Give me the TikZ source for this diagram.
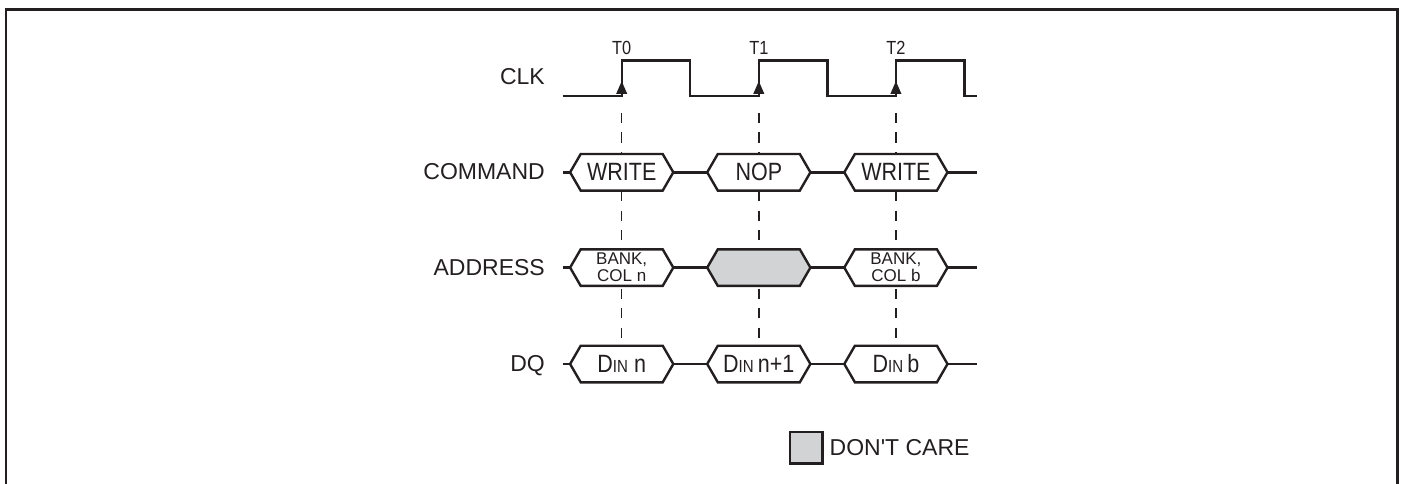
\documentclass[tikz,border=0pt]{standalone}
\usepackage{fontspec}
\setmainfont{Liberation Sans}[Ligatures=TeXOff]
\newfontfamily\narrowfont{Liberation Sans}[FakeStretch=0.86,Ligatures=TeXOff]
\definecolor{ink}{HTML}{231F20}
\definecolor{dcgray}{HTML}{D1D3D4}
\newcommand\hexbox[6][]{%
  \draw[sig, fill=#5] (#3-51.6,#4) -- (#3-41,#4-18.3) -- (#3+41,#4-18.3) -- (#3+51.6,#4)
     -- (#3+41,#4+18.3) -- (#3-41,#4+18.3) -- cycle;
  \coordinate (#2-w) at (#3-51.6,#4);
  \coordinate (#2-e) at (#3+51.6,#4);
  \node[boxtxt,#1] (#2) at (#3,#4) {#6};}
\begin{document}
\begin{tikzpicture}[x=1pt,y=-1pt,line join=miter,
  sig/.style={draw=ink, line width=2.4pt},
  gridline/.style={draw=ink, line width=1.5pt, dash pattern=on 10pt off 9.5pt},
  lab/.style={text=ink, font=\fontsize{23}{27}\selectfont, inner sep=0, anchor=base east},
  tlab/.style={text=ink, font=\narrowfont\fontsize{19}{20}\selectfont, inner sep=0, anchor=base},
  boxtxt/.style={text=ink, font=\narrowfont\fontsize{25}{26}\selectfont, inner sep=0, align=center},
  smalltxt/.style={font=\fontsize{17}{17}\selectfont}]
\useasboundingbox (0,0) rectangle (1402,484);
% frame
\draw[ink, line width=2.5pt] (6.2,484) -- (6.2,9.5) -- (1397.3,9.5) -- (1397.3,484);
% edge coordinates
\coordinate (e0) at (621.7,96);
\coordinate (e1) at (758.8,96);
\coordinate (e2) at (895.9,96);
\coordinate (clkstart) at (562.7,96);
\coordinate (clkend) at (976.7,96);
% dashed reference lines
\foreach \e in {e0,e1,e2}{
  \draw[gridline] ([yshift=-17pt]\e) -- ([yshift=-254pt]\e);
}
% labels
\node[lab] (lclk) at (545,85) {CLK};
\node[lab] (lcmd) at (545,179.8) {COMMAND};
\node[lab] (ladr) at (545,275.1) {ADDRESS};
\node[lab] (ldq) at (545,371.5) {DQ};
% T labels
\node[tlab] (t0) at (621.7,55) {T0};
\node[tlab] (t1) at (758.8,55) {T1};
\node[tlab] (t2) at (895.9,55) {T2};
% clock
\draw[sig] (clkstart) -- (e0) -- (621.7,60.7) -- (690.2,60.7) -- (690.2,96) -- (e1)
  -- (758.8,60.7) -- (827.3,60.7) -- (827.3,96) -- (e2) -- (895.9,60.7) -- (964.4,60.7)
  -- (964.4,96) -- (clkend);
\foreach \e in {e0,e1,e2}{
  \fill[ink] ([yshift=14.8pt]\e) -- ([xshift=5.6pt,yshift=2pt]\e) -- ([xshift=-5.6pt,yshift=2pt]\e) -- cycle;
}
% COMMAND
\hexbox{c1}{621.7}{172.3}{white}{WRITE}
\hexbox{c2}{758.8}{172.3}{white}{NOP}
\hexbox{c3}{895.9}{172.3}{white}{WRITE}
\coordinate (cs) at (562.7,172.3); \coordinate (ce) at (976.7,172.3);
\draw[sig] (cs) -- (c1-w) (c1-e) -- (c2-w) (c2-e) -- (c3-w) (c3-e) -- (ce);
% ADDRESS
\hexbox[smalltxt]{a1}{621.7}{267.6}{white}{BANK,\\COL n}
\hexbox{a2}{758.8}{267.6}{dcgray}{}
\hexbox[smalltxt]{a3}{895.9}{267.6}{white}{BANK,\\COL b}
\coordinate (as) at (562.7,267.6); \coordinate (ae) at (976.7,267.6);
\draw[sig] (as) -- (a1-w) (a1-e) -- (a2-w) (a2-e) -- (a3-w) (a3-e) -- (ae);
% DQ
\hexbox{d1}{621.7}{364}{white}{D{\fontsize{17.5}{17}\selectfont IN} n}
\hexbox{d2}{758.8}{364}{white}{D{\fontsize{17.5}{17}\selectfont IN}\,n+1}
\hexbox{d3}{895.9}{364}{white}{D{\fontsize{17.5}{17}\selectfont IN}\,b}
\coordinate (ds) at (562.7,364); \coordinate (de) at (976.7,364);
\draw[sig] (ds) -- (d1-w) (d1-e) -- (d2-w) (d2-e) -- (d3-w) (d3-e) -- (de);
% legend
\draw[sig, fill=dcgray] (790,431.7) rectangle (822.3,463.3);
\node[text=ink, font=\fontsize{23}{26}\selectfont, inner sep=0, anchor=base west] (dc) at (829.5,455) {DON'T CARE};
\end{tikzpicture}
\end{document}
